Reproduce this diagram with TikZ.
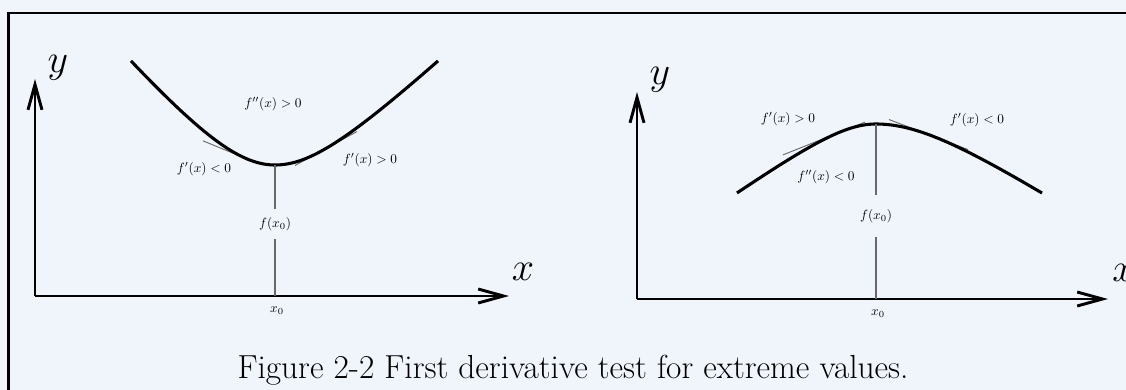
\RequirePackage{fix-cm}
\documentclass[tikz,border=0pt]{standalone}
\usetikzlibrary{arrows.meta}
\definecolor{bg}{RGB}{240,245,251}
\definecolor{thingray}{RGB}{105,105,105}
\begin{document}
\begin{tikzpicture}[x=0.75pt,y=-0.75pt,
  axis/.style={line width=2.2pt,-{Straight Barb[length=19pt,width=10.5pt]}},
  curve/.style={line width=2.3pt},
  tangent/.style={line width=0.7pt,draw=thingray},
  drop/.style={line width=0.8pt,draw=thingray},
  lbl/.style={inner sep=0pt,font=\fontsize{10}{12}\selectfont},
  big/.style={inner sep=0pt,font=\fontsize{30}{36}\selectfont},
  fval/.style={lbl,inner xsep=0pt},
  frame/.style={line width=2.2pt}]
\useasboundingbox (0,0) rectangle (1126,389);
\fill[bg] (-10,-10) rectangle (1140,400);
\draw[frame] (8.3,430) -- (8.3,13) -- (1170,13);

% ---------------- left graph ----------------
\coordinate (Lo) at (35,296);
\coordinate (Lytip) at (35,79);
\coordinate (Lxtip) at (509,296);
\coordinate (Lmin) at (275,165);
\coordinate (Lfoot) at (275,296);
\draw[axis] (Lo) -- (Lytip);
\draw[axis] (Lo) -- (Lxtip);
\node[big] (Ly) at (58,68) {$y$};
\node[big] (Lx) at (523,272) {$x$};

% tangents
\coordinate (LTa1) at (203,140.86);
\coordinate (LTa2) at (254,161.78);
\coordinate (LTb1) at (295,165.48);
\coordinate (LTb2) at (357,131.53);
\draw[tangent] (LTa1) -- (LTa2);
\draw[tangent] (LTb1) -- (LTb2);

% curve (minimum)
\draw[curve] plot[domain=-144:0,samples=90,smooth]
  ({275+\x},{165-1.178*(10*sqrt(7.32*7.32+(\x/10)*(\x/10))-73.2)});
\draw[curve] plot[domain=0:163,samples=90,smooth]
  ({275+\x},{165-0.943*(10*sqrt(6.52*6.52+(\x/10)*(\x/10))-65.2)});

\node[lbl] (Lfpp) at (273,104) {$f''(x) > 0$};
\node[lbl] (Lfpl) at (204,169) {$f'(x) < 0$};
\node[lbl] (Lfpr) at (370,160) {$f'(x) > 0$};
\node[fval,inner ysep=6.3pt] (Lf) at (275,224) {$f(x_0)$};
\draw[drop] (Lmin) -- (Lf.north);
\draw[drop] (Lf.south) -- (Lfoot);
\node[lbl] (Lx0) at (277,311) {$x_0$};

% ---------------- right graph ----------------
\coordinate (Ro) at (637,299);
\coordinate (Rytip) at (637,92);
\coordinate (Rxtip) at (1108,299);
\coordinate (Rmax) at (876,124);
\coordinate (Rfoot) at (876,299);
\draw[axis] (Ro) -- (Rytip);
\draw[axis] (Ro) -- (Rxtip);
\node[big] (Ry) at (660,80) {$y$};
\node[big,anchor=west] (Rx) at (1112,273) {$x$};

% tangents
\coordinate (RTa1) at (783,154.85);
\coordinate (RTa2) at (865,122.05);
\coordinate (RTb1) at (889,119.54);
\coordinate (RTb2) at (968,149.56);
\draw[tangent] (RTa1) -- (RTa2);
\draw[tangent] (RTb1) -- (RTb2);

% curve (maximum)
\draw[curve] plot[domain=-139:0,samples=90,smooth]
  ({876+\x},{124+0.715*(10*sqrt(5.19*5.19+(\x/10)*(\x/10))-51.9)});
\draw[curve] plot[domain=0:166,samples=90,smooth]
  ({876+\x},{124+0.65*(10*sqrt(7.66*7.66+(\x/10)*(\x/10))-76.6)});

\node[lbl] (Rfpl) at (788,119) {$f'(x) > 0$};
\node[lbl] (Rfpp) at (826,177) {$f''(x) < 0$};
\node[lbl] (Rfpr) at (977,120) {$f'(x) < 0$};
\node[fval,inner ysep=10.8pt] (Rf) at (876,216) {$f(x_0)$};
\draw[drop] (Rmax) -- (Rf.north);
\draw[drop] (Rf.south) -- (Rfoot);
\node[lbl] (Rx0) at (878,314) {$x_0$};

% ---------------- caption ----------------
\node[inner sep=0pt,anchor=base,font=\fontsize{25}{30}\selectfont] (cap) at (573,378)
  {Figure 2-2 First derivative test for extreme values.};
\end{tikzpicture}
\end{document}
